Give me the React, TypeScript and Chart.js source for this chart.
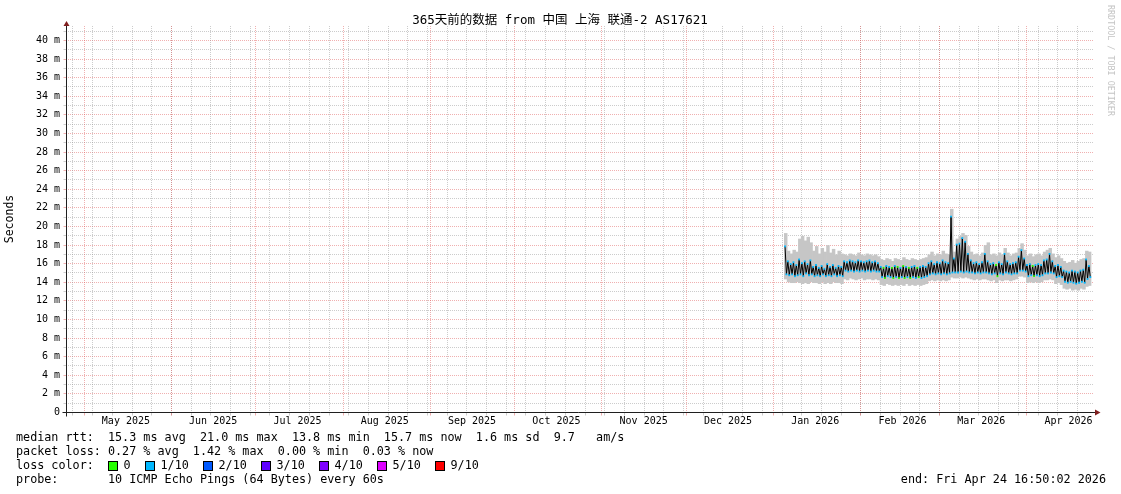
import React, { useEffect, useRef } from 'react';
import { Chart, registerables } from 'chart.js';

Chart.register(...registerables);

const DAY_MS = 86400000;
const GRAPH_END = Date.UTC(2026, 3, 24, 16, 50, 2);
const GRAPH_SPAN_DAYS = 365;
const GRAPH_START = GRAPH_END - GRAPH_SPAN_DAYS * DAY_MS;
const DATA_FIRST_DAY = Date.UTC(2026, 0, 5);
const Y_MAX = 41.5;

const chartTitle = '365天前的数据 from 中国 上海 联通-2 AS17621';
const yAxisTitle = 'Seconds';
const yTickValues = [0, 2, 4, 6, 8, 10, 12, 14, 16, 18, 20, 22, 24, 26, 28, 30, 32, 34, 36, 38, 40];
const yTickLabels = ['0', '2 m', '4 m', '6 m', '8 m', '10 m', '12 m', '14 m', '16 m', '18 m', '20 m', '22 m', '24 m', '26 m', '28 m', '30 m', '32 m', '34 m', '36 m', '38 m', '40 m'];
const monthStarts = [[2025, 4], [2025, 5], [2025, 6], [2025, 7], [2025, 8], [2025, 9], [2025, 10], [2025, 11], [2026, 0], [2026, 1], [2026, 2], [2026, 3]];
const monthLabels = ['May 2025', 'Jun 2025', 'Jul 2025', 'Aug 2025', 'Sep 2025', 'Oct 2025', 'Nov 2025', 'Dec 2025', 'Jan 2026', 'Feb 2026', 'Mar 2026', 'Apr 2026'];
const firstWeekLine = Date.UTC(2025, 3, 27);

// one bin per day starting 2026-01-05
const medianHigh = [
  17.8, 16.2, 15.9, 16.1, 15.8, 16.4, 16.0, 16.2, 15.9, 16.3,
  15.6, 15.8, 15.5, 15.7, 15.4, 15.9, 15.6, 15.8, 15.5, 15.7,
  15.6, 16.2, 16.1, 16.3, 16.2, 16.1, 16.3, 16.2, 16.1, 16.2,
  16.3, 16.1, 16.2, 16.0, 15.6, 15.5, 15.7, 15.6, 15.5, 15.7,
  15.6, 15.5, 15.7, 15.6, 15.5, 15.6, 15.7, 15.5, 15.6, 15.7,
  15.6, 16.0, 16.2, 15.9, 16.1, 16.0, 16.3, 16.1, 16.0, 21.0,
  16.5, 18.0, 18.1, 18.7, 18.3, 17.0, 16.3, 16.0, 16.1, 15.9,
  16.1, 17.0, 16.2, 15.9, 16.0, 15.8, 16.1, 15.9, 17.0, 16.2,
  15.9, 16.0, 16.1, 16.7, 17.4, 16.5, 15.8, 15.9, 15.7, 15.8,
  15.9, 15.8, 16.3, 16.4, 17.0, 16.2, 15.7, 15.8, 15.6, 15.2,
  15.1, 15.0, 15.2, 15.1, 15.0, 15.2, 15.3, 16.4, 15.7,
];
const medianLow = [
  14.8, 14.7, 14.8, 14.6, 14.7, 14.8, 14.6, 14.9, 14.7, 14.8,
  14.6, 14.7, 14.6, 14.8, 14.6, 14.7, 14.6, 14.8, 14.6, 14.7,
  14.6, 15.2, 15.1, 15.2, 15.1, 15.2, 15.1, 15.2, 15.1, 15.2,
  15.1, 15.2, 15.1, 15.1, 14.5, 14.4, 14.6, 14.5, 14.4, 14.5,
  14.4, 14.5, 14.4, 14.5, 14.4, 14.5, 14.4, 14.5, 14.4, 14.5,
  14.6, 14.8, 14.9, 14.8, 14.9, 14.8, 14.9, 14.8, 14.9, 15.0,
  15.0, 15.0, 15.1, 15.0, 15.1, 15.0, 15.0, 14.9, 15.0, 14.9,
  15.0, 15.0, 14.9, 14.8, 14.9, 14.6, 14.9, 14.8, 15.0, 14.9,
  14.8, 14.9, 14.9, 15.2, 15.2, 15.1, 14.6, 14.7, 14.6, 14.7,
  14.6, 14.7, 14.9, 14.9, 15.0, 14.9, 14.5, 14.6, 14.5, 14.0,
  13.9, 14.0, 13.9, 13.8, 13.9, 14.0, 13.9, 14.3, 14.5,
];
const smokeHigh = [
  19.2, 17.3, 17.0, 17.4, 17.2, 18.6, 18.9, 18.4, 18.8, 18.2,
  17.3, 17.8, 17.0, 17.6, 17.2, 17.9, 17.1, 17.5, 16.9, 17.3,
  17.0, 16.9, 16.8, 17.0, 16.9, 16.8, 17.1, 16.9, 16.8, 17.0,
  16.9, 16.8, 16.9, 16.7, 16.4, 16.3, 16.5, 16.4, 16.2, 16.5,
  16.4, 16.3, 16.6, 16.4, 16.3, 16.5, 16.4, 16.3, 16.4, 16.5,
  16.6, 16.9, 17.2, 16.8, 17.0, 16.9, 17.3, 17.0, 16.9, 21.8,
  17.2, 18.6, 18.9, 19.2, 19.0, 17.8, 17.2, 16.9, 17.0, 16.8,
  17.1, 17.9, 18.2, 16.9, 17.0, 16.8, 17.1, 16.9, 17.6, 17.1,
  16.8, 17.0, 17.1, 17.6, 18.1, 17.4, 16.8, 17.0, 16.7, 16.9,
  17.0, 16.8, 17.2, 17.4, 17.6, 17.0, 16.6, 16.8, 16.5, 16.2,
  16.0, 16.1, 16.3, 16.0, 16.2, 16.4, 16.5, 17.3, 17.2,
];
const smokeLow = [
  14.3, 14.0, 13.9, 13.9, 14.0, 13.9, 13.8, 13.9, 13.8, 14.0,
  13.9, 13.9, 13.8, 14.0, 13.8, 13.9, 13.8, 14.0, 13.9, 13.9,
  13.8, 14.3, 14.2, 14.4, 14.3, 14.2, 14.3, 14.4, 14.2, 14.3,
  14.3, 14.2, 14.3, 14.2, 13.7, 13.6, 13.8, 13.7, 13.6, 13.7,
  13.6, 13.7, 13.6, 13.8, 13.6, 13.7, 13.6, 13.7, 13.6, 13.7,
  13.8, 14.1, 14.2, 14.1, 14.2, 14.1, 14.2, 14.1, 14.2, 14.5,
  14.4, 14.4, 14.5, 14.4, 14.5, 14.4, 14.3, 14.2, 14.3, 14.2,
  14.3, 14.3, 14.2, 14.1, 14.2, 13.9, 14.2, 14.1, 14.2, 14.2,
  14.1, 14.2, 14.3, 14.6, 14.6, 14.5, 13.9, 14.0, 13.9, 14.0,
  13.9, 14.0, 14.2, 14.2, 14.3, 14.2, 13.8, 13.9, 13.7, 13.3,
  13.2, 13.3, 13.1, 13.2, 13.1, 13.3, 13.2, 13.5, 13.6,
];
// index into lossLegendColors
const lossLevel = [
  1, 1, 1, 1, 1, 1, 1, 1, 1, 1,
  1, 1, 1, 1, 1, 1, 1, 1, 1, 1,
  1, 1, 1, 1, 1, 1, 1, 1, 1, 1,
  1, 1, 1, 1, 1, 0, 1, 1, 0, 1,
  0, 1, 0, 1, 0, 1, 1, 0, 1, 1,
  1, 1, 1, 1, 1, 1, 1, 1, 1, 1,
  1, 1, 1, 1, 1, 1, 1, 1, 1, 1,
  1, 1, 1, 1, 1, 0, 1, 1, 1, 1,
  1, 1, 1, 1, 1, 1, 1, 1, 0, 1,
  1, 1, 1, 1, 1, 1, 1, 1, 1, 1,
  1, 1, 1, 1, 1, 1, 1, 1, 1,
];

const medianLine = 'median rtt:  15.3 ms avg  21.0 ms max  13.8 ms min  15.7 ms now  1.6 ms sd  9.7   am/s';
const packetLossLine = 'packet loss: 0.27 % avg  1.42 % max  0.00 % min  0.03 % now';
const lossColorTitle = 'loss color:';
const lossLegendLabels = ['0', '1/10', '2/10', '3/10', '4/10', '5/10', '9/10'];
const lossLegendColors = ['#26ff00', '#00b8ff', '#0059ff', '#5e00ff', '#7e00ff', '#dd00ff', '#ff0000'];
const probeLine = 'probe:       10 ICMP Echo Pings (64 Bytes) every 60s';
const endLine = 'end: Fri Apr 24 16:50:02 2026';
const watermark = 'RRDTOOL / TOBI OETIKER';

const MONO = '"DejaVu Sans Mono", "Noto Sans CJK SC", monospace';
const MINOR = 'rgba(143,143,143,0.45)';
const MAJOR = 'rgba(222,79,79,0.45)';
const AXIS = '#1f1f1f';
const ARROW = '#801f1f';

const dayOf = (ms: number) => (ms - GRAPH_START) / DAY_MS;

const rrdPlugin = {
  id: 'rrdDecor',
  beforeDatasetsDraw(chart: any) {
    const { ctx, chartArea: a, scales } = chart;
    const xs = scales.x;
    const ys = scales.y;
    ctx.save();
    ctx.lineWidth = 1;
    ctx.setLineDash([1, 1]);
    for (let v = 1; v <= Math.floor(Y_MAX); v++) {
      const py = Math.round(ys.getPixelForValue(v)) + 0.5;
      ctx.strokeStyle = v % 2 === 0 ? MAJOR : MINOR;
      ctx.beginPath();
      ctx.moveTo(a.left, py);
      ctx.lineTo(a.right, py);
      ctx.stroke();
    }
    const monthDays = monthStarts.map(([y, m]) => dayOf(Date.UTC(y, m, 1)));
    for (let d = dayOf(firstWeekLine); d < GRAPH_SPAN_DAYS; d += 7) {
      const px = Math.round(xs.getPixelForValue(d)) + 0.5;
      ctx.strokeStyle = MINOR;
      ctx.beginPath();
      ctx.moveTo(px, a.top);
      ctx.lineTo(px, a.bottom);
      ctx.stroke();
    }
    monthDays.forEach((d) => {
      const px = Math.round(xs.getPixelForValue(d)) + 0.5;
      ctx.strokeStyle = MAJOR;
      ctx.beginPath();
      ctx.moveTo(px, a.top);
      ctx.lineTo(px, a.bottom);
      ctx.stroke();
    });
    ctx.restore();
  },
  afterDraw(chart: any) {
    const { ctx, chartArea: a, scales } = chart;
    const xs = scales.x;
    const ys = scales.y;
    const ax = a.left + 0.5;
    const ay = Math.round(ys.getPixelForValue(0)) + 0.5;
    ctx.save();
    ctx.setLineDash([]);
    ctx.lineWidth = 1;
    for (let v = 1; v <= Math.floor(Y_MAX); v++) {
      const py = Math.round(ys.getPixelForValue(v)) + 0.5;
      ctx.strokeStyle = v % 2 === 0 ? MAJOR : MINOR;
      ctx.beginPath();
      ctx.moveTo(ax - 3, py);
      ctx.lineTo(ax, py);
      ctx.stroke();
    }
    for (let d = dayOf(firstWeekLine); d < GRAPH_SPAN_DAYS; d += 7) {
      const px = Math.round(xs.getPixelForValue(d)) + 0.5;
      ctx.strokeStyle = MINOR;
      ctx.beginPath();
      ctx.moveTo(px, ay);
      ctx.lineTo(px, ay + 3);
      ctx.stroke();
    }
    monthStarts.forEach(([y, m]) => {
      const px = Math.round(xs.getPixelForValue(dayOf(Date.UTC(y, m, 1)))) + 0.5;
      ctx.strokeStyle = MAJOR;
      ctx.beginPath();
      ctx.moveTo(px, ay);
      ctx.lineTo(px, ay + 3);
      ctx.stroke();
    });
    ctx.strokeStyle = AXIS;
    ctx.beginPath();
    ctx.moveTo(ax, ay + 4);
    ctx.lineTo(ax, a.top - 1);
    ctx.stroke();
    ctx.beginPath();
    ctx.moveTo(ax - 4, ay);
    ctx.lineTo(a.right + 2, ay);
    ctx.stroke();
    ctx.fillStyle = ARROW;
    ctx.beginPath();
    ctx.moveTo(ax - 3, a.top);
    ctx.lineTo(ax + 3, a.top);
    ctx.lineTo(ax, a.top - 5);
    ctx.closePath();
    ctx.fill();
    ctx.beginPath();
    ctx.moveTo(a.right + 2, ay - 3);
    ctx.lineTo(a.right + 2, ay + 3);
    ctx.lineTo(a.right + 7.5, ay);
    ctx.closePath();
    ctx.fill();

    ctx.fillStyle = '#000';
    ctx.font = `10px ${MONO}`;
    ctx.textAlign = 'right';
    ctx.textBaseline = 'middle';
    yTickValues.forEach((v, i) => {
      const py = Math.round(ys.getPixelForValue(v)) + 0.5;
      ctx.fillText(yTickLabels[i], a.left - 6, py);
    });
    ctx.textAlign = 'center';
    monthStarts.forEach(([y, m], i) => {
      const d = dayOf(Date.UTC(y, m, 1)) + 15;
      ctx.fillText(monthLabels[i], xs.getPixelForValue(d), ay + 9);
    });

    ctx.save();
    ctx.font = `11.5px ${MONO}`;
    ctx.translate(10.5, 219);
    ctx.rotate(-Math.PI / 2);
    ctx.textAlign = 'center';
    ctx.textBaseline = 'middle';
    ctx.fillText(yAxisTitle, 0, 0);
    ctx.restore();

    ctx.font = `12.5px ${MONO}`;
    ctx.textAlign = 'center';
    ctx.textBaseline = 'middle';
    ctx.fillText(chartTitle, 560, 21);

    ctx.save();
    ctx.font = `8.4px ${MONO}`;
    ctx.fillStyle = '#c4c4c4';
    ctx.translate(1110, 5);
    ctx.rotate(Math.PI / 2);
    ctx.textAlign = 'left';
    ctx.textBaseline = 'middle';
    ctx.fillText(watermark, 0, 0);
    ctx.restore();

    ctx.font = `11.75px ${MONO}`;
    ctx.fillStyle = '#000';
    ctx.textAlign = 'left';
    ctx.textBaseline = 'middle';
    ctx.fillText(medianLine, 16, 438);
    ctx.fillText(packetLossLine, 16, 452);
    ctx.fillText(lossColorTitle, 16, 466);
    ctx.fillText(probeLine, 16, 480);
    ctx.textAlign = 'right';
    ctx.fillText(endLine, 1106, 480);
    ctx.textAlign = 'left';
    let bx = 108;
    lossLegendLabels.forEach((lab, i) => {
      ctx.fillStyle = lossLegendColors[i];
      ctx.fillRect(bx, 461, 9, 9);
      ctx.strokeStyle = '#000';
      ctx.strokeRect(bx + 0.5, 461.5, 9, 9);
      ctx.fillStyle = '#000';
      const lx = bx + 15.5;
      ctx.fillText(lab, lx, 466);
      bx = Math.round(lx + ctx.measureText(lab).width + 14.3);
    });
    ctx.restore();
  },
};

export default function App() {
  const ref = useRef<HTMLCanvasElement | null>(null);
  useEffect(() => {
    document.body.style.margin = '0';
    const firstDay = dayOf(DATA_FIRST_DAY);
    const smokeData = smokeLow.map((lo, i) => ({ x: firstDay + i + 0.5, y: [lo, smokeHigh[i]] }));
    const medianPts: { x: number; y: number }[] = [];
    const dotColors: string[] = [];
    medianHigh.forEach((hi, i) => {
      medianPts.push({ x: firstDay + i + 0.25, y: hi });
      medianPts.push({ x: firstDay + i + 0.75, y: medianLow[i] });
      const c = lossLegendColors[lossLevel[i]];
      dotColors.push(c, c);
    });
    const chart = new Chart(ref.current as HTMLCanvasElement, {
      type: 'bar',
      data: {
        datasets: [
          {
            type: 'scatter' as any,
            data: medianPts,
            showLine: false,
            pointStyle: 'rect',
            pointRadius: 1.3,
            pointBorderWidth: 0,
            pointBackgroundColor: dotColors,
            order: 1,
          } as any,
          {
            type: 'line',
            data: medianPts,
            borderColor: '#000',
            borderWidth: 1,
            pointRadius: 0,
            tension: 0,
            order: 2,
          } as any,
          {
            type: 'bar',
            data: smokeData as any,
            backgroundColor: '#c6c6c6',
            borderWidth: 0,
            barPercentage: 1,
            categoryPercentage: 1,
            order: 3,
          } as any,
        ],
      },
      options: {
        responsive: false,
        maintainAspectRatio: false,
        animation: false,
        events: [],
        layout: { padding: { left: 66, right: 28, top: 26, bottom: 82 } },
        plugins: { legend: { display: false }, tooltip: { enabled: false }, title: { display: false } },
        scales: {
          x: { type: 'linear', min: 0, max: GRAPH_SPAN_DAYS, offset: false, display: false, grid: { offset: false } },
          y: { type: 'linear', min: 0, max: Y_MAX, display: false },
        },
      },
      plugins: [rrdPlugin],
    });
    return () => chart.destroy();
  }, []);
  return (
    <div style={{ position: 'absolute', left: 0, top: 0, width: 1121, height: 494, background: '#fff' }}>
      <canvas ref={ref} width={1121} height={494} style={{ display: 'block' }} />
    </div>
  );
}
